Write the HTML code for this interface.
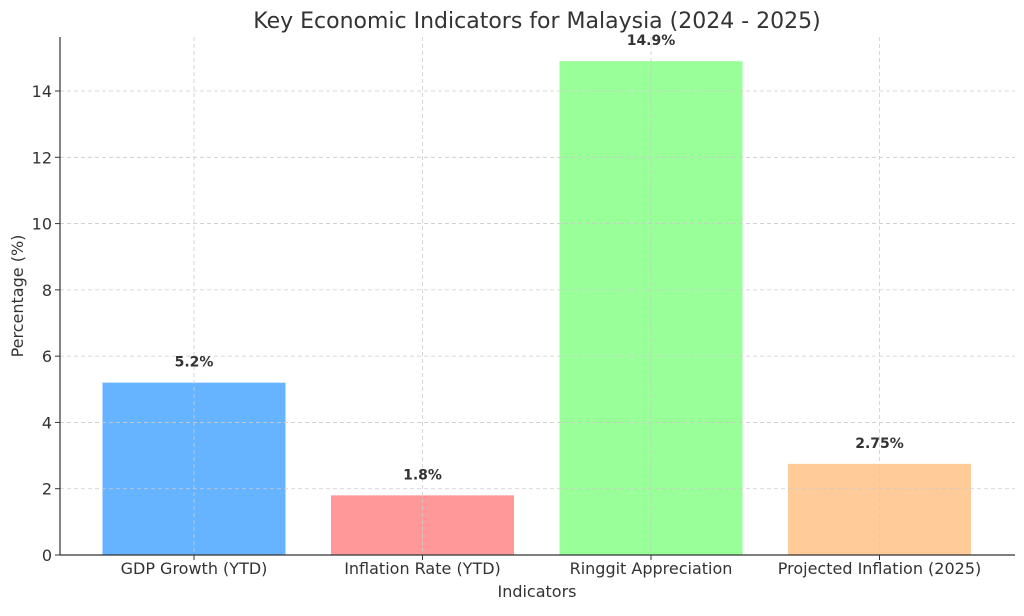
<!DOCTYPE html>
<html><head><meta charset="utf-8"><style>
body{margin:0;background:#fff;font-family:"Liberation Sans","DejaVu Sans",sans-serif}
svg text{font-family:"DejaVu Sans","Liberation Sans",sans-serif;fill:#333}
</style></head><body>
<svg id="chart" width="1024" height="611" xmlns="http://www.w3.org/2000/svg"></svg>
<script>
const categories=["GDP Growth (YTD)","Inflation Rate (YTD)","Ringgit Appreciation","Projected Inflation (2025)"];
const values=[5.2,1.8,14.9,2.75];
const valueLabels=["5.2%","1.8%","14.9%","2.75%"];
const colors=["#66b3ff","#ff9999","#99ff99","#ffcc99"];
const yTicks=[0,2,4,6,8,10,12,14];
const svg=document.getElementById('chart');
const NS="http://www.w3.org/2000/svg";
const L=60,R=1015,B=555,T=37,yMax=15.63;
const y=v=>B-(v/yMax)*(B-T);
const step=(R-L)/(categories.length+0.18);
const x=i=>194+i*228.5;
const bw=183;
function mk(tag,attrs,name,text){const e=document.createElementNS(NS,tag);for(const k in attrs)e.setAttribute(k,attrs[k]);


if(text!==undefined)e.textContent=text;svg.appendChild(e);return e;}
mk('text',{x:537,y:28,'text-anchor':'middle','font-size':22},'chart-title','Key Economic Indicators for Malaysia (2024 - 2025)');
values.forEach((v,i)=>{
mk('rect',{x:x(i)-bw/2,y:y(v),width:bw,height:B-y(v),fill:colors[i]},'bar-'+(i+1));
});
yTicks.forEach(t=>{
mk('line',{x1:L,x2:R,y1:y(t),y2:y(t),stroke:'#ccc','stroke-dasharray':'4,3','stroke-width':0.8},'y-gridline');
mk('line',{x1:L-5,x2:L,y1:y(t),y2:y(t),stroke:'#333'},'y-tick');
mk('text',{x:L-8,y:y(t)+6,'text-anchor':'end','font-size':16},'y-tick-label',String(t));
});
categories.forEach((c,i)=>{
mk('line',{x1:x(i),x2:x(i),y1:T,y2:B,stroke:'#ccc','stroke-dasharray':'4,3','stroke-width':0.8},'x-gridline');
mk('line',{x1:x(i),x2:x(i),y1:B,y2:B+5,stroke:'#333'},'x-tick');
mk('text',{x:x(i),y:B+19,'text-anchor':'middle','font-size':16},'x-tick-label',c);
mk('text',{x:x(i),y:y(values[i])-16,'text-anchor':'middle','font-size':14,'font-weight':'bold'},'value-label',valueLabels[i]);
});
mk('line',{x1:L,x2:L,y1:T,y2:B,stroke:'#333','stroke-width':1.2},'y-axis');
mk('line',{x1:L,x2:R,y1:B,y2:B,stroke:'#333','stroke-width':1.2},'x-axis');
mk('text',{x:537,y:597,'text-anchor':'middle','font-size':16},'x-axis-title','Indicators');
mk('text',{x:23,y:296,'text-anchor':'middle','font-size':16,transform:'rotate(-90 23 296)'},'y-axis-title','Percentage (%)');
</script>
</body></html>
